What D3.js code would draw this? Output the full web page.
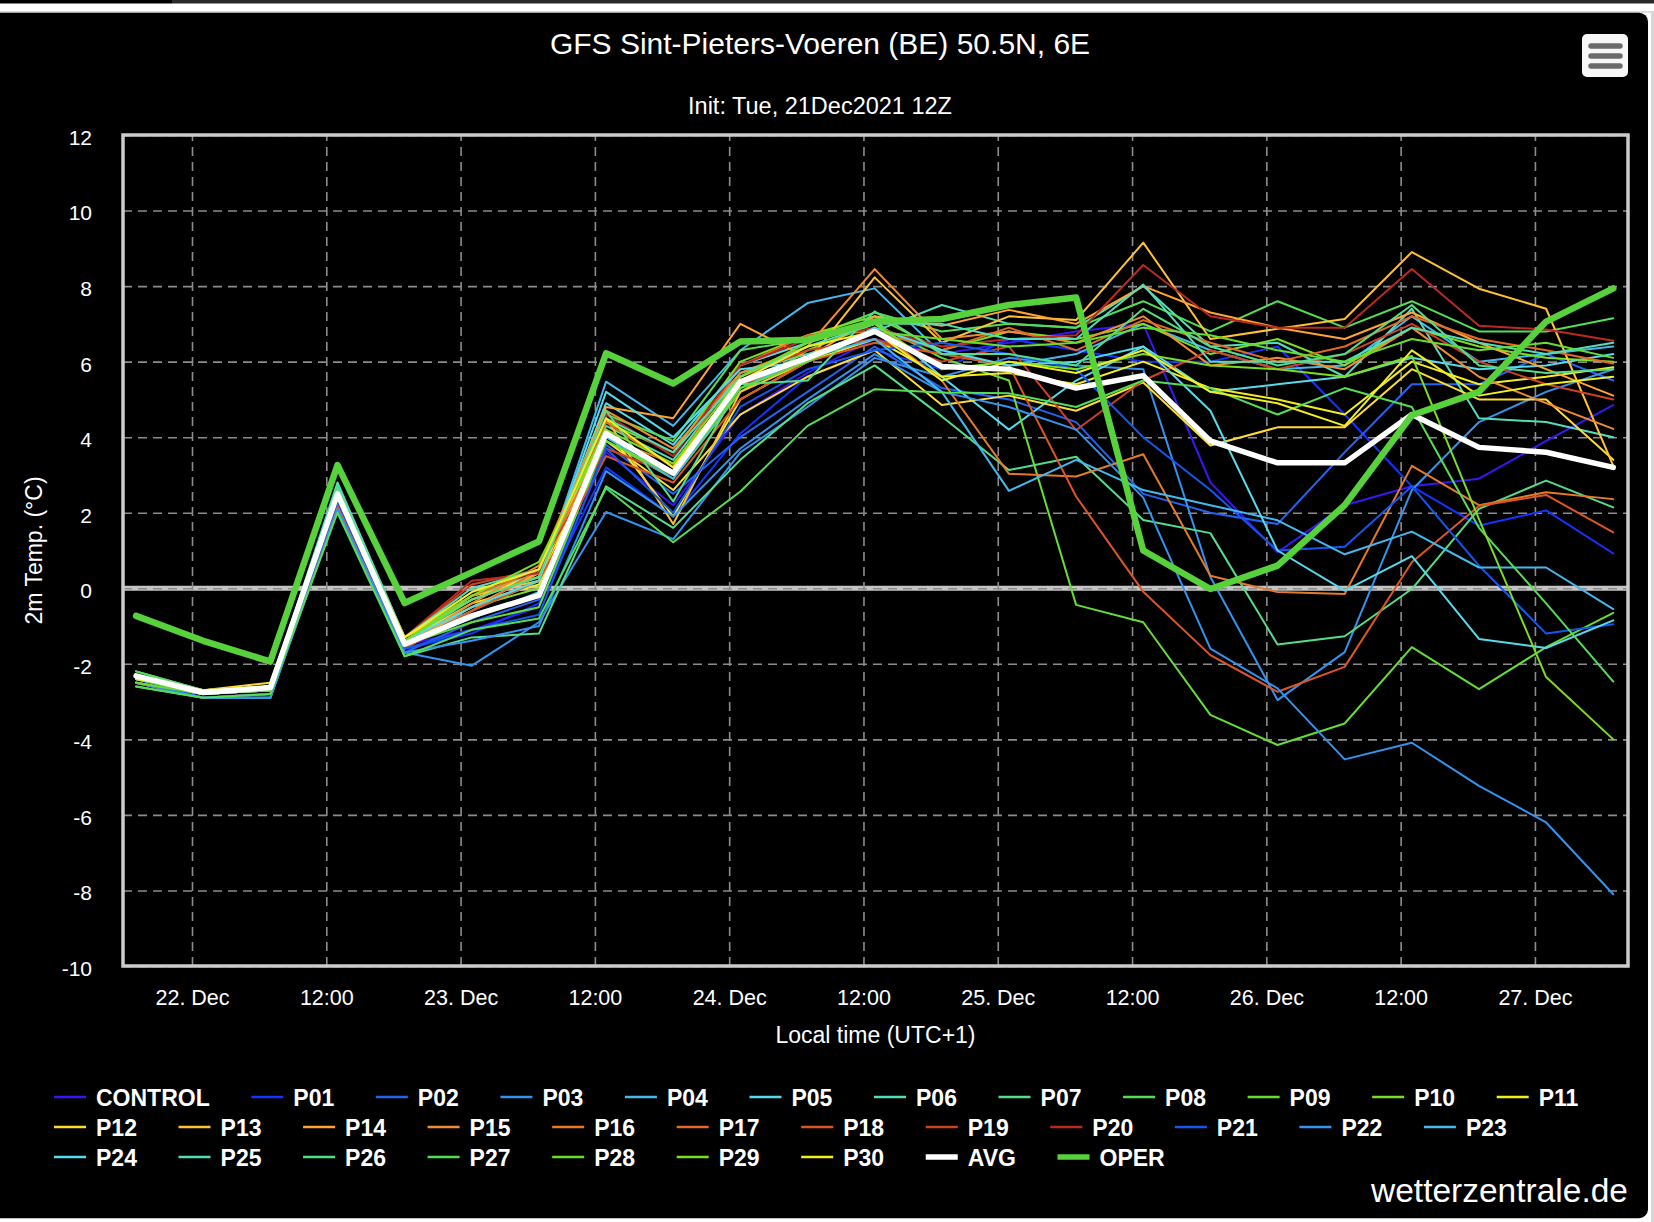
<!DOCTYPE html>
<html>
<head>
<meta charset="utf-8">
<script src="https://cdn.jsdelivr.net/npm/d3@7"></script>
<style>
  html, body { margin: 0; padding: 0; background: #fff; overflow: hidden; }
  svg { display: block; }
  text { font-family: "Liberation Sans", Arial, Helvetica, sans-serif; fill: #fff; }
</style>
</head>
<body>
<script>
// Tijdstippen van de run (lokale tijd, UTC+1).
var times = ["2021-12-21 19:00", "2021-12-22 01:00", "2021-12-22 07:00", "2021-12-22 13:00",
             "2021-12-22 19:00", "2021-12-23 01:00", "2021-12-23 07:00", "2021-12-23 13:00",
             "2021-12-23 19:00", "2021-12-24 01:00", "2021-12-24 07:00", "2021-12-24 13:00",
             "2021-12-24 19:00", "2021-12-25 01:00", "2021-12-25 07:00", "2021-12-25 13:00",
             "2021-12-25 19:00", "2021-12-26 01:00", "2021-12-26 07:00", "2021-12-26 13:00",
             "2021-12-26 19:00", "2021-12-27 01:00", "2021-12-27 07:00"];

var yTicks = [-10, -8, -6, -4, -2, 0, 2, 4, 6, 8, 10, 12];

// Temperatuur per run (2m, graden C).
var control = [-2.3,-2.8,-2.7,2.4,-1.5,-1.1,-0.5,3.6,2.2,4.6,5.7,6.6,6.2,6.5,6.8,7.0,2.8,0.95,2.2,2.7,2.9,3.9,4.85];
var p01 = [-2.4,-2.9,-2.8,2.2,-1.6,-1.2,-0.4,3.2,1.9,4.1,5.6,6.3,5.8,6.6,6.3,6.0,6.0,6.4,4.6,2.7,1.66,2.06,0.92];
var p02 = [-2.5,-2.9,-2.8,2.1,-1.7,-0.9,-0.3,3.8,2.5,4.0,5.2,6.4,5.3,5.0,4.4,2.5,2.0,1.7,3.6,5.4,5.4,6.2,5.5];
var p03 = [-2.5,-2.9,-2.9,2.1,-1.7,-2.05,-0.9,2.02,1.3,3.6,4.8,6.1,5.6,6.1,5.9,5.8,0.3,-2.96,-1.69,2.6,4.4,5.2,5.8];
var p04 = [-2.4,-2.8,-2.7,2.6,-1.4,-0.6,0.2,5.47,4.3,6.3,7.55,7.94,6.2,5.9,6.2,7.0,6.3,5.8,5.9,7.2,6.0,6.2,6.4];
var p05 = [-2.3,-2.7,-2.6,2.7,-1.3,-0.3,0.3,4.9,3.8,5.9,6.5,7.1,5.6,4.2,5.5,6.4,5.2,5.4,5.6,6.1,5.8,5.9,6.2];
var p06 = [-2.2,-2.7,-2.6,2.8,-1.3,-0.2,0.4,4.3,3.4,5.7,6.2,6.8,7.5,7.0,6.9,8.0,6.4,6.5,5.6,7.4,4.5,4.4,4.0];
var p07 = [-2.6,-2.9,-2.9,2.2,-1.8,-1.3,-1.2,2.7,1.6,3.4,4.9,5.9,4.55,3.13,3.48,1.81,1.46,-1.49,-1.27,-0.02,2.1,2.85,2.14];
var p08 = [-2.2,-2.7,-2.6,2.5,-1.3,-0.2,0.3,4.6,3.9,6.3,6.6,7.3,6.8,7.0,6.9,7.6,6.8,7.6,6.9,7.6,6.8,6.8,7.15];
var p09 = [-2.5,-2.8,-2.7,2.4,-1.5,-0.9,-0.5,3.9,2.9,5.2,6.3,7.0,6.1,5.5,-0.44,-0.9,-3.35,-4.15,-3.58,-1.56,-2.67,-1.56,-0.65];
var p10 = [-2.4,-2.8,-2.6,2.6,-1.4,-0.5,0.0,4.4,3.6,6.0,6.7,7.2,6.3,6.8,6.6,7.0,6.2,6.6,5.9,6.9,6.4,6.1,6.0];
var p11 = [-2.3,-2.7,-2.6,2.5,-1.4,-0.4,0.1,4.2,1.9,5.0,6.0,6.6,5.6,5.7,5.4,6.0,5.3,5.0,4.6,6.0,5.4,5.6,5.85];
var p12 = [-2.4,-2.7,-2.5,2.4,-1.3,-0.3,0.4,3.9,2.6,4.6,5.6,6.3,4.85,5.1,4.7,5.45,3.78,4.26,4.26,5.8,5.0,5.0,3.4];
var p13 = [-2.5,-2.8,-2.6,2.3,-1.4,-0.2,0.2,4.5,1.7,5.2,6.0,8.23,6.5,7.2,7.1,9.15,6.6,6.87,7.13,8.9,7.93,7.4,3.24];
var p14 = [-2.4,-2.8,-2.7,2.5,-1.5,-0.5,0.4,4.8,4.5,7.0,6.1,7.2,6.95,7.37,7.0,8.0,7.3,6.9,6.6,7.3,6.5,5.8,5.1];
var p15 = [-2.5,-2.8,-2.7,2.3,-1.5,-0.4,0.6,4.7,3.7,5.7,6.4,8.45,6.6,6.8,6.5,7.2,5.9,6.1,5.8,6.9,5.6,4.9,4.22];
var p16 = [-2.5,-2.9,-2.8,2.3,-1.6,-0.6,0.5,4.0,3.3,5.4,6.0,6.9,5.5,3.03,2.96,3.55,0.33,-0.1,-0.15,3.24,2.2,2.54,2.36];
var p17 = [-2.4,-2.8,-2.7,2.4,-1.4,-0.2,0.5,4.4,3.2,5.9,6.7,6.8,6.3,6.9,6.3,7.1,6.5,6.0,6.4,7.2,6.6,6.3,5.95];
var p18 = [-2.5,-2.9,-2.8,2.2,-1.6,-0.6,0.2,3.5,2.8,5.0,6.0,6.5,6.2,5.9,2.43,-0.09,-1.77,-2.74,-2.08,0.69,2.18,2.47,1.48];
var p19 = [-2.4,-2.8,-2.6,2.4,-1.3,0.1,0.5,3.7,3.0,5.6,6.3,6.6,6.0,6.4,4.19,5.5,6.3,5.8,6.2,7.0,6.0,5.4,5.0];
var p20 = [-2.3,-2.7,-2.6,2.5,-1.3,0.2,0.4,4.6,3.5,5.9,6.6,6.9,6.4,6.6,6.7,8.56,7.2,6.9,6.9,8.45,6.95,6.85,6.55];
var p21 = [-2.4,-2.9,-2.8,2.3,-1.6,-1.1,-0.7,3.7,2.0,4.8,5.8,6.3,6.5,6.2,5.8,4.0,2.6,1.0,1.1,2.7,0.6,-1.2,-0.95];
var p22 = [-2.5,-2.9,-2.9,2.1,-1.7,-1.39,-1.0,3.1,1.9,3.7,5.0,6.2,5.2,4.8,4.2,2.4,-1.6,-2.65,-4.53,-4.09,-5.23,-6.2,-8.1];
var p23 = [-2.4,-2.8,-2.7,2.5,-1.5,-0.8,-0.1,4.0,2.9,5.3,6.1,6.6,5.2,2.58,3.4,2.6,2.2,1.8,0.9,1.5,0.55,0.55,-0.55];
var p24 = [-2.3,-2.8,-2.7,2.6,-1.4,-0.5,0.2,5.2,4.0,5.8,6.0,6.9,6.3,5.9,6.0,6.4,4.7,1.0,-0.06,0.85,-1.34,-1.58,-0.85];
var p25 = [-2.3,-2.7,-2.6,2.6,-1.3,0.0,0.5,4.5,3.6,5.6,6.4,7.0,7.0,6.6,6.6,8.04,6.0,6.0,6.0,6.9,6.5,6.2,6.5];
var p26 = [-2.4,-2.8,-2.6,2.7,-1.4,-0.3,0.3,4.7,2.3,5.4,5.5,7.33,6.2,6.2,5.9,7.4,6.4,5.9,6.2,7.5,5.9,5.7,5.8];
var p27 = [-2.6,-2.9,-2.8,2.0,-1.8,-1.1,-0.8,2.65,1.22,2.56,4.3,5.27,5.18,5.16,4.8,5.5,5.3,4.6,5.3,4.8,1.6,-0.4,-2.47];
var p28 = [-2.5,-2.8,-2.7,2.4,-1.5,-0.7,-0.2,3.9,3.0,5.3,6.0,6.8,6.6,6.4,6.5,6.9,6.7,6.3,6.0,6.6,6.3,6.5,6.1];
var p29 = [-2.4,-2.8,-2.6,2.5,-1.4,-0.2,0.7,4.2,3.3,5.6,6.5,7.0,5.8,6.0,5.8,6.2,5.9,5.8,5.6,6.15,1.83,-2.35,-4.0];
var p30 = [-2.4,-2.7,-2.6,2.5,-1.3,-0.1,0.5,4.5,3.2,5.5,6.4,6.8,5.5,6.0,5.7,6.3,5.2,4.9,4.3,6.3,5.1,5.4,5.6];
var avg = [-2.32,-2.76,-2.63,2.5,-1.48,-0.73,-0.19,4.1,3.05,5.47,6.1,6.8,5.87,5.8,5.3,5.63,3.9,3.32,3.32,4.6,3.73,3.6,3.2];
var oper = [-0.73,-1.39,-1.94,3.26,-0.39,0.42,1.24,6.22,5.42,6.53,6.58,7.06,7.13,7.5,7.7,1.0,-0.02,0.6,2.2,4.58,5.2,7.06,7.94];

var names = ["CONTROL","P01","P02","P03","P04","P05","P06","P07","P08","P09","P10","P11",
             "P12","P13","P14","P15","P16","P17","P18","P19","P20","P21","P22","P23",
             "P24","P25","P26","P27","P28","P29","P30","AVG","OPER"];
var runs = [control,p01,p02,p03,p04,p05,p06,p07,p08,p09,p10,p11,
            p12,p13,p14,p15,p16,p17,p18,p19,p20,p21,p22,p23,
            p24,p25,p26,p27,p28,p29,p30,avg,oper];

// Kleuren en lijndiktes per run.
var colors = ["#3a16f2","#1533ff","#2363f0","#3393ee","#43b9ee","#55dbec","#55ddb8","#55dd88","#55dd55","#66dd33","#7ade22","#f2ee22",
              "#ffdc33","#ffc233","#ffa433","#f08c33","#e47a2a","#e06a26","#dc5624","#cc4222","#bb2a22","#1456ee","#3393ee","#43b9ee",
              "#55dbec","#55ddb8","#55dd88","#55dd55","#66dd33","#7ade22","#f2ee22","#ffffff","#58d23c"];
var widths = names.map(function(n) { return n === "AVG" ? 5.5 : (n === "OPER" ? 6.5 : 2); });

// Verhoudingen van de grafiek.
var margin = {top: 135, right: 26, bottom: 256, left: 123},
    width = 1654 - margin.left - margin.right,
    height = 1222 - margin.top - margin.bottom;

var parseTime = d3.timeParse("%Y-%m-%d %H:%M");
var dates = times.map(parseTime);

var x = d3.scaleTime()
    .domain([parseTime("2021-12-21 17:50"), parseTime("2021-12-27 08:19")])
    .range([0, width]);
var y = d3.scaleLinear().domain([-10, 12]).range([height, 0]);

var root = d3.select("body").append("svg")
    .attr("width", 1654)
    .attr("height", 1222);

// Achtergrond: browserbalk en zwart kader.
root.append("rect").attr("x", 172).attr("y", 0).attr("width", 1482).attr("height", 3.5).attr("fill", "#2a2a2a");
root.append("rect").attr("x", 0).attr("y", 0).attr("width", 172).attr("height", 3.5).attr("fill", "#000");
root.append("rect").attr("x", 0).attr("y", 11).attr("width", 1654).attr("height", 2).attr("fill", "#dcdcdc");
root.append("rect")
    .attr("x", -12).attr("y", 12.7)
    .attr("width", 1660).attr("height", 1205.5)
    .attr("rx", 9)
    .attr("fill", "#000");
root.append("rect").attr("x", 1651).attr("y", 13).attr("width", 3).attr("height", 1209).attr("fill", "#d6d6d6");

// Titel en subtitel.
root.append("text")
    .attr("x", 820).attr("y", 54)
    .attr("text-anchor", "middle")
    .attr("font-size", "30px")
    .text("GFS Sint-Pieters-Voeren (BE) 50.5N, 6E");

root.append("text")
    .attr("x", 820).attr("y", 114)
    .attr("text-anchor", "middle")
    .attr("font-size", "23.5px")
    .text("Init: Tue, 21Dec2021 12Z");

// Menuknop rechtsboven.
root.append("rect")
    .attr("x", 1582).attr("y", 34).attr("width", 46).attr("height", 43)
    .attr("rx", 5).attr("fill", "#f7f7f7");
[46, 56, 66].forEach(function(yy) {
  root.append("line")
      .attr("x1", 1591).attr("x2", 1620).attr("y1", yy).attr("y2", yy)
      .attr("stroke", "#6b6b6b").attr("stroke-width", 5.5).attr("stroke-linecap", "round");
});

var svg = root.append("g")
    .attr("transform", "translate(" + margin.left + "," + margin.top + ")");

svg.append("clipPath").attr("id", "plotclip")
  .append("rect").attr("x", 0).attr("y", 0).attr("width", width).attr("height", height);

// Nullijn.
svg.append("line")
    .attr("x1", 0).attr("x2", width)
    .attr("y1", y(0)).attr("y2", y(0))
    .attr("stroke", "#c4c4c4").attr("stroke-width", 5);

// Gridlijnen.
svg.append("g")
    .attr("class", "grid")
    .call(d3.axisLeft(y).tickValues(yTicks).tickSize(-width).tickFormat(""))
    .call(function(g) { g.select(".domain").remove(); })
    .selectAll("line")
    .attr("stroke", "#8c8c8c").attr("stroke-width", 1.6).attr("stroke-dasharray", "9,6");

svg.append("g")
    .attr("class", "grid")
    .attr("transform", "translate(0," + height + ")")
    .call(d3.axisBottom(x).ticks(d3.timeHour.every(12)).tickSize(-height).tickFormat(""))
    .call(function(g) { g.select(".domain").remove(); })
    .selectAll("line")
    .attr("stroke", "#8c8c8c").attr("stroke-width", 1.6).attr("stroke-dasharray", "9,6");

// Lijnen van alle runs.
var lijn = d3.line()
    .x(function(d, i) { return x(dates[i]); })
    .y(function(d) { return y(d); });

var plot = svg.append("g").attr("clip-path", "url(#plotclip)");
runs.forEach(function(run, k) {
  plot.append("path")
      .datum(run)
      .attr("fill", "none")
      .attr("stroke", colors[k])
      .attr("stroke-width", widths[k])
      .attr("stroke-linejoin", "round")
      .attr("stroke-linecap", "round")
      .attr("d", lijn);
});

// Kader om het plotgebied.
svg.append("rect")
    .attr("x", 0).attr("y", 0).attr("width", width).attr("height", height)
    .attr("fill", "none").attr("stroke", "#cccccc").attr("stroke-width", 3.5);

// Y as (gewoon koppelteken als minteken, zoals in het origineel).
var yAxis = svg.append("g")
    .call(d3.axisLeft(y).tickValues(yTicks).tickSize(0).tickPadding(31)
        .tickFormat(function(d) { return String(d); }));
yAxis.select(".domain").remove();
yAxis.selectAll("text")
    .attr("font-size", "21px")
    .attr("font-family", "Liberation Sans, Arial, sans-serif")
    .attr("fill", "#fff")
    .attr("dy", "0.45em");

// X as.
var fmtDay = d3.timeFormat("%d. %b");
var xAxis = svg.append("g")
    .attr("transform", "translate(0," + height + ")")
    .call(d3.axisBottom(x)
        .ticks(d3.timeHour.every(12))
        .tickSize(0)
        .tickPadding(24)
        .tickFormat(function(d) { return d.getHours() === 0 ? fmtDay(d) : "12:00"; }));
xAxis.select(".domain").remove();
xAxis.selectAll("text")
    .attr("font-size", "21.5px")
    .attr("font-family", "Liberation Sans, Arial, sans-serif")
    .attr("fill", "#fff");

// As-titels.
root.append("text")
    .attr("x", margin.left + width / 2).attr("y", 1043)
    .attr("text-anchor", "middle")
    .attr("font-size", "23px")
    .text("Local time (UTC+1)");

root.append("text")
    .attr("transform", "translate(42," + (margin.top + height / 2) + ") rotate(-90)")
    .attr("text-anchor", "middle")
    .attr("font-size", "23px")
    .text("2m Temp. (\u00b0C)");

// Legenda.
var legend = root.append("g");
var lx = 54, ly = 1097;
names.forEach(function(n, k) {
  var item = legend.append("g");
  item.append("line")
      .attr("x1", 0).attr("x2", 32).attr("y1", 0).attr("y2", 0)
      .attr("stroke", colors[k])
      .attr("stroke-width", n === "AVG" || n === "OPER" ? 5.5 : 2.5);
  var t = item.append("text")
      .attr("x", 42).attr("y", 8.5)
      .attr("font-size", "23px")
      .attr("font-weight", "bold")
      .text(n);
  var w = 42 + t.node().getComputedTextLength();
  if (lx + w > 1620) { lx = 54; ly += 30; }
  item.attr("transform", "translate(" + lx + "," + ly + ")");
  lx += w + 41.6;
});

// Bronvermelding.
root.append("text")
    .attr("x", 1628).attr("y", 1202)
    .attr("text-anchor", "end")
    .attr("font-size", "33.5px")
    .text("wetterzentrale.de");
</script>
</body>
</html>
